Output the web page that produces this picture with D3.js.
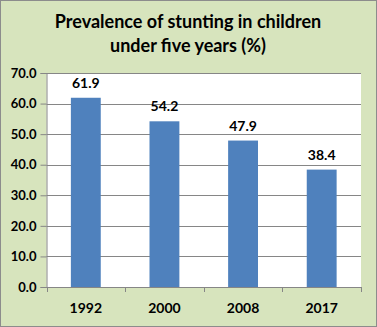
<!DOCTYPE html>
<html>
<head>
<meta charset="utf-8">
<script src="https://cdn.jsdelivr.net/npm/d3@7"></script>
<style>
  html, body { margin: 0; padding: 0; background: #fff; }
  svg { display: block; }
  text { font-family: Lato, "Open Sans", sans-serif; font-weight: bold; fill: #000; }
</style>
</head>
<body>
<script>
// Stunting prevalence by survey year
const years = ["1992", "2000", "2008", "2017"];
const values = [61.9, 54.2, 47.9, 38.4];
const yTicks = [0, 10, 20, 30, 40, 50, 60, 70];
const titleLines = ["Prevalence of stunting in children", "under five years (%)"];

const W = 377, H = 327;
const plot = { left: 46.5, right: 361, top: 73, bottom: 287 };

const svg = d3.select("body").append("svg")
  .attr("width", W).attr("height", H);

// chart background and frame
svg.append("rect")
  .attr("x", 0.5).attr("y", 0.5)
  .attr("width", W - 1).attr("height", H - 1)
  .attr("fill", "#D7E4BD")
  .attr("stroke", "#8C8C8C");

// title
svg.append("g").selectAll("text")
  .data(titleLines)
  .join("text")
  .attr("x", 188)
  .attr("y", (d, i) => 28 + i * 24)
  .attr("text-anchor", "middle")
  .attr("font-size", 18)
  .text(d => d);

const x = d3.scaleBand().domain(years).range([plot.left, plot.right]).padding(0);
const y = d3.scaleLinear().domain([0, 70]).range([plot.bottom, plot.top]);

// plot area
svg.append("rect")
  .attr("x", plot.left).attr("y", plot.top)
  .attr("width", plot.right - plot.left).attr("height", plot.bottom - plot.top)
  .attr("fill", "#fff");

// gridlines
svg.append("g").selectAll("line")
  .data(yTicks.filter(t => t > 0))
  .join("line")
  .attr("x1", plot.left).attr("x2", plot.right)
  .attr("y1", d => Math.round(y(d)) + 0.5).attr("y2", d => Math.round(y(d)) + 0.5)
  .attr("stroke", "#868686");

// bars
const barFrac = 0.38;
svg.append("g").selectAll("rect")
  .data(years.map((yr, i) => ({ yr, v: values[i] })))
  .join("rect")
  .attr("x", d => x(d.yr) + x.bandwidth() * (1 - barFrac) / 2)
  .attr("width", x.bandwidth() * barFrac)
  .attr("y", d => y(d.v))
  .attr("height", d => y(0) - y(d.v))
  .attr("fill", "#4F81BD");

// value labels
svg.append("g").selectAll("text")
  .data(years.map((yr, i) => ({ yr, v: values[i] })))
  .join("text")
  .attr("x", d => x(d.yr) + x.bandwidth() / 2)
  .attr("y", d => y(d.v) - 10)
  .attr("text-anchor", "middle")
  .attr("font-size", 14)
  .text(d => d.v.toFixed(1));

// y axis
const yAxis = svg.append("g")
  .attr("transform", `translate(${plot.left},0)`)
  .call(d3.axisLeft(y).tickValues(yTicks).tickFormat(d3.format(".1f")).tickSize(6).tickPadding(4));
yAxis.select(".domain").attr("stroke", "#868686");
yAxis.selectAll(".tick line").attr("stroke", "#868686");
yAxis.selectAll(".tick text").attr("font-size", 13).attr("font-family", "Lato, sans-serif").attr("font-weight", "bold").attr("fill", "#000");

// x axis
const xTickPos = [plot.left].concat(years.map(d => x(d) + x.bandwidth()));
const xAxis = svg.append("g")
  .attr("transform", `translate(0,${plot.bottom})`)
  .call(d3.axisBottom(x).tickSize(0).tickPadding(16));
xAxis.select(".domain").attr("stroke", "#868686");
xAxis.selectAll(".tick text").attr("font-size", 14).attr("font-family", "Lato, sans-serif").attr("font-weight", "bold").attr("fill", "#000");
xAxis.selectAll("line.sep")
  .data(xTickPos)
  .join("line")
  .attr("class", "sep")
  .attr("x1", d => Math.round(d) + 0.5).attr("x2", d => Math.round(d) + 0.5)
  .attr("y1", 0).attr("y2", 5)
  .attr("stroke", "#868686");
</script>
</body>
</html>
